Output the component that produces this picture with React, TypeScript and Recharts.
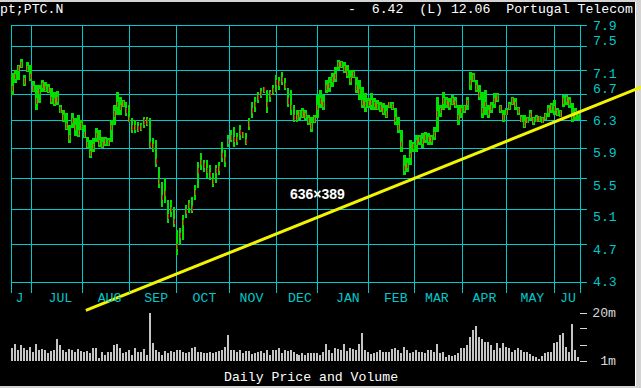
import React from 'react';
import { ComposedChart, Bar, XAxis, YAxis, CartesianGrid, ReferenceLine } from 'recharts';

const highs = [
  7.05, 7.10, 7.19, 7.29, 7.02, 7.24, 7.19, 6.92, 6.85, 6.85,
  6.94, 6.90, 6.87, 6.81, 6.74, 6.76, 6.54, 6.46, 6.41, 6.24,
  6.41, 6.34, 6.38, 6.31, 6.24, 6.06, 6.02, 6.05, 6.19, 6.16,
  6.06, 6.06, 6.05, 6.31, 6.54, 6.74, 6.66, 6.62, 6.58, 6.54,
  6.34, 6.31, 6.28, 6.26, 6.35, 6.35, 6.34, 6.05, 6.02, 5.65,
  5.45, 5.50, 5.22, 5.22, 5.14, 4.86, 4.89, 5.04, 5.16, 5.22,
  5.26, 5.41, 5.71, 5.84, 5.74, 5.74, 5.67, 5.57, 5.67, 5.71,
  5.99, 5.88, 6.09, 6.16, 6.21, 6.12, 6.24, 6.13, 6.12, 6.34,
  6.58, 6.66, 6.74, 6.81, 6.82, 6.77, 6.77, 6.85, 7.02, 6.98,
  7.07, 6.97, 6.81, 6.77, 6.54, 6.46, 6.46, 6.49, 6.46, 6.38,
  6.35, 6.38, 6.69, 6.77, 6.69, 6.94, 6.98, 7.05, 7.15, 7.27,
  7.26, 7.24, 7.19, 7.10, 7.10, 6.98, 6.94, 6.82, 6.73, 6.65,
  6.73, 6.65, 6.62, 6.58, 6.57, 6.54, 6.58, 6.58, 6.49, 6.35,
  6.16, 5.81, 5.77, 6.02, 5.99, 6.09, 6.09, 6.12, 6.13, 6.12,
  6.09, 6.21, 6.66, 6.54, 6.74, 6.66, 6.65, 6.69, 6.66, 6.54,
  6.54, 6.54, 6.66, 7.07, 7.05, 6.94, 6.85, 6.74, 6.77, 6.54,
  6.58, 6.73, 6.73, 6.54, 6.46, 6.49, 6.58, 6.66, 6.65, 6.51,
  6.38, 6.38, 6.35, 6.46, 6.35, 6.38, 6.37, 6.35, 6.41, 6.54,
  6.57, 6.62, 6.49, 6.46, 6.69, 6.69, 6.66, 6.57, 6.49, 6.43,
];

const lows = [
  6.69, 6.89, 6.94, 7.14, 6.84, 7.07, 6.92, 6.74, 6.46, 6.57,
  6.74, 6.74, 6.73, 6.55, 6.52, 6.54, 6.41, 6.28, 6.16, 5.98,
  6.19, 6.07, 6.06, 6.16, 6.05, 5.90, 5.77, 5.85, 5.99, 5.92,
  5.90, 5.93, 5.93, 5.99, 6.24, 6.38, 6.38, 6.51, 6.37, 6.28,
  6.12, 6.12, 6.13, 6.14, 6.19, 6.22, 5.90, 5.85, 5.65, 5.37,
  5.14, 5.18, 4.94, 5.02, 4.90, 4.58, 4.69, 4.75, 5.00, 5.06,
  5.06, 5.22, 5.37, 5.61, 5.58, 5.50, 5.47, 5.38, 5.44, 5.54,
  5.71, 5.65, 5.92, 5.99, 5.92, 5.95, 6.02, 6.05, 5.95, 6.16,
  6.34, 6.43, 6.57, 6.65, 6.73, 6.41, 6.58, 6.69, 6.74, 6.77,
  6.85, 6.77, 6.51, 6.38, 6.28, 6.28, 6.31, 6.34, 6.31, 6.24,
  6.13, 6.26, 6.34, 6.49, 6.46, 6.73, 6.74, 6.82, 6.90, 7.10,
  7.14, 7.05, 6.97, 6.85, 6.97, 6.73, 6.62, 6.49, 6.43, 6.49,
  6.46, 6.46, 6.46, 6.43, 6.38, 6.34, 6.49, 6.46, 6.24, 6.12,
  5.85, 5.54, 5.58, 5.67, 5.85, 5.85, 5.95, 5.90, 5.98, 5.95,
  5.95, 6.02, 6.13, 6.35, 6.46, 6.49, 6.46, 6.54, 6.49, 6.24,
  6.34, 6.41, 6.46, 6.77, 6.90, 6.74, 6.62, 6.34, 6.38, 6.34,
  6.41, 6.49, 6.58, 6.41, 6.28, 6.38, 6.46, 6.54, 6.46, 6.38,
  6.28, 6.19, 6.26, 6.31, 6.24, 6.28, 6.28, 6.26, 6.31, 6.35,
  6.41, 6.38, 6.37, 6.35, 6.51, 6.54, 6.49, 6.28, 6.31, 6.31,
];

const closes = [
  6.80, 7.00, 7.12, 7.20, 6.92, 7.12, 7.00, 6.80, 6.60, 6.75,
  6.85, 6.80, 6.78, 6.62, 6.60, 6.62, 6.46, 6.35, 6.22, 6.05,
  6.30, 6.20, 6.12, 6.22, 6.10, 5.95, 5.83, 5.92, 6.08, 5.98,
  5.96, 6.00, 5.98, 6.20, 6.40, 6.55, 6.50, 6.56, 6.45, 6.32,
  6.20, 6.20, 6.18, 6.20, 6.28, 6.28, 5.96, 5.92, 5.72, 5.45,
  5.25, 5.30, 5.02, 5.10, 4.96, 4.68, 4.80, 4.95, 5.08, 5.15,
  5.12, 5.32, 5.60, 5.70, 5.66, 5.60, 5.55, 5.45, 5.60, 5.62,
  5.80, 5.75, 6.00, 6.05, 6.02, 6.02, 6.12, 6.10, 6.00, 6.25,
  6.45, 6.55, 6.65, 6.72, 6.78, 6.55, 6.70, 6.76, 6.90, 6.88,
  6.95, 6.85, 6.60, 6.50, 6.35, 6.35, 6.40, 6.40, 6.38, 6.30,
  6.22, 6.32, 6.50, 6.60, 6.55, 6.82, 6.85, 6.95, 7.00, 7.20,
  7.20, 7.12, 7.05, 6.95, 7.02, 6.82, 6.75, 6.58, 6.55, 6.56,
  6.58, 6.55, 6.52, 6.50, 6.45, 6.40, 6.55, 6.52, 6.32, 6.20,
  5.95, 5.62, 5.66, 5.80, 5.92, 5.98, 6.02, 6.00, 6.05, 6.02,
  6.02, 6.10, 6.40, 6.45, 6.60, 6.58, 6.55, 6.60, 6.56, 6.35,
  6.45, 6.48, 6.58, 6.90, 6.98, 6.82, 6.70, 6.45, 6.55, 6.42,
  6.50, 6.60, 6.65, 6.48, 6.35, 6.42, 6.52, 6.60, 6.55, 6.45,
  6.32, 6.25, 6.30, 6.38, 6.30, 6.32, 6.33, 6.30, 6.36, 6.45,
  6.50, 6.48, 6.42, 6.40, 6.60, 6.62, 6.58, 6.36, 6.40, 6.42,
];

// volume in millions of shares
const volumes = [
  6.0, 7.7, 5.4, 7.3, 6.0, 5.4, 6.7, 4.7, 7.7, 5.4,
  5.6, 5.4, 4.0, 5.1, 5.4, 9.6, 7.5, 5.4, 4.7, 5.6,
  5.4, 4.7, 5.6, 5.1, 4.4, 5.0, 4.3, 6.2, 6.0, 2.1,
  4.7, 3.4, 4.7, 4.7, 7.3, 7.7, 6.0, 4.0, 4.7, 5.4,
  3.4, 6.0, 4.7, 4.7, 5.6, 3.4, 20.0, 8.3, 5.4, 4.7,
  3.4, 5.1, 4.3, 5.1, 4.7, 5.4, 5.4, 4.7, 4.0, 4.7,
  6.0, 6.7, 4.7, 4.7, 4.3, 4.3, 4.5, 4.3, 4.7, 5.1,
  5.4, 6.7, 11.3, 5.4, 5.4, 4.7, 5.4, 4.3, 5.0, 5.1,
  3.8, 4.3, 4.7, 5.1, 4.3, 5.4, 3.4, 5.4, 5.4, 6.3,
  4.0, 5.4, 5.1, 5.4, 4.7, 3.8, 3.4, 4.0, 3.4, 4.3,
  4.3, 4.0, 4.3, 3.4, 4.7, 7.7, 5.4, 4.3, 6.0, 5.6,
  5.4, 7.7, 5.1, 6.0, 5.6, 5.4, 7.7, 12.2, 5.4, 4.7,
  3.8, 4.0, 4.7, 5.4, 4.7, 4.7, 4.7, 5.6, 6.0, 5.4,
  4.3, 6.5, 5.4, 4.3, 4.7, 5.4, 4.7, 4.7, 4.3, 5.4,
  5.4, 4.7, 7.7, 4.0, 4.7, 2.7, 3.4, 3.0, 3.4, 4.0,
  6.0, 6.0, 7.3, 10.6, 13.3, 14.9, 10.6, 9.6, 8.7, 8.7,
  7.3, 5.4, 8.0, 6.0, 8.3, 6.7, 6.0, 4.7, 5.4, 6.3,
  5.4, 4.7, 4.7, 3.8, 3.0, 2.7, 1.7, 3.0, 4.3, 4.7,
  4.7, 8.0, 8.7, 11.3, 12.0, 6.7, 4.7, 15.6, 5.4, 2.5,
];

const monthNames = ['J', 'JUL', 'AUG', 'SEP', 'OCT', 'NOV', 'DEC', 'JAN', 'FEB', 'MAR', 'APR', 'MAY', 'JU'];
const monthLabelAt = [2.8, 16.5, 32.9, 48.5, 64.6, 80.3, 96.5, 112.5, 128.5, 142.2, 158.1, 174.1, 186];
const monthBounds = [0, 6.7, 24, 39.7, 55.4, 73.1, 88.5, 102.5, 119.5, 134.6, 150.6, 165.6, 181.6, 190];
const priceTicks = [4.3, 4.7, 5.1, 5.5, 5.9, 6.3, 6.7, 7.1, 7.5, 7.9];
const volumeTicks = [1, 7.33, 13.67, 20];
const trendFrom = { x: 25, y: 4.02 };
const trendTo = { x: 210.4, y: 6.82 };

const bars = highs.map((h, i) => ({
  pos: i + 0.5,
  high: h,
  low: lows[i],
  close: closes[i],
  vol: volumes[i],
}));

const CYAN = '#00c8cc';
const GREEN = '#00e000';
const RED = '#f00000';
const VOLGRAY = '#c4c4c4';
const MONO = "'Liberation Mono', 'DejaVu Sans Mono', monospace";
const FS = 13.2;

const priceLabelShift: Record<string, number> = {
  '7.9': 1, '7.5': -5, '7.1': 4, '6.7': -5, '6.3': 1,
  '5.9': 5, '5.5': 8, '5.1': 8, '4.7': 6, '4.3': 0,
};

const PriceTick = (props: any) => {
  const { x, y, payload } = props;
  const label = Number(payload.value).toFixed(1);
  return (
    <text x={x} y={y + (priceLabelShift[label] || 0)} fill={CYAN} fontFamily={MONO} fontSize={FS}
      textAnchor="start" dominantBaseline="central">{label}</text>
  );
};

const MonthTick = (props: any) => {
  const { x, y, payload } = props;
  const idx = monthLabelAt.indexOf(payload.value);
  return (
    <text x={x} y={y + 5} fill={CYAN} fontFamily={MONO} fontSize={FS}
      textAnchor="middle" dominantBaseline="central">{monthNames[idx] ?? ''}</text>
  );
};

const EmptyTick = () => <g />;

const VolumeTick = (props: any) => {
  const { x, y, payload } = props;
  const v = payload.value;
  const label = v === 20 ? '20m' : v === 1 ? '1m' : '';
  return (
    <text x={x + 27} y={y} fill="#d8d8d8" fontFamily={MONO} fontSize={FS}
      textAnchor="end" dominantBaseline="central">{label}</text>
  );
};

const textBase: React.CSSProperties = {
  position: 'absolute',
  fontFamily: MONO,
  fontSize: FS,
  lineHeight: '14px',
  color: '#ffffff',
  whiteSpace: 'pre',
};

export default function App() {
  return (
    <div style={{ position: 'absolute', left: 0, top: 0, width: 641, height: 388, background: '#d4d4d4', overflow: 'hidden' }}>
      <div style={{ position: 'absolute', left: 0, top: 2, width: 636, height: 384, background: '#000' }} />
      <div style={{ position: 'absolute', left: 635, top: 2, width: 1, height: 384, background: '#ffffff' }} />

      <div style={{ ...textBase, left: 0, top: 3 }}>pt;PTC.N</div>
      <div style={{ ...textBase, left: 348, top: 3 }}>{'-  6.42  (L) 12.06  Portugal Telecom'}</div>

      <div style={{ position: 'absolute', left: 0, top: 0 }}>
        <ComposedChart width={641} height={388} data={bars} margin={{ top: 313, right: 60, bottom: 27, left: 11 }}
          style={{ shapeRendering: 'crispEdges' }}>
          <XAxis xAxisId="v" dataKey="pos" type="number" domain={[0, 190]} hide />
          <YAxis yAxisId="v" orientation="right" type="number" domain={[1, 20]} ticks={volumeTicks}
            interval={0} width={1} axisLine={false} tickSize={7} tickMargin={2}
            tickLine={{ stroke: '#d8d8d8' }} tick={<VolumeTick />} allowDataOverflow />
          <Bar xAxisId="v" yAxisId="v" dataKey="vol" fill={VOLGRAY} barSize={2} isAnimationActive={false} />
        </ComposedChart>
      </div>

      <div style={{ position: 'absolute', left: 0, top: 0 }}>
        <ComposedChart width={641} height={388} data={bars} margin={{ top: 25, right: 60, bottom: 104, left: 11 }}
          style={{ shapeRendering: 'crispEdges' }}>
          <CartesianGrid xAxisId="g" yAxisId="p" stroke={CYAN} strokeWidth={1} fill="none" />
          <XAxis xAxisId="g" dataKey="pos" type="number" domain={[0, 190]} ticks={monthBounds}
            interval={0} height={1} axisLine={false} tickSize={11} tickLine={{ stroke: CYAN }} tick={<EmptyTick />} />
          <XAxis xAxisId="m" dataKey="pos" type="number" domain={[0, 190]} ticks={monthLabelAt}
            interval={0} height={1} axisLine={false} tickLine={false} tickSize={0} tickMargin={10} tick={<MonthTick />} />
          <XAxis xAxisId="r" dataKey="pos" type="number" domain={[0, 190]} hide />
          <YAxis yAxisId="p" orientation="right" scale="log" type="number" domain={[4.3, 7.9]}
            ticks={priceTicks} interval={0} width={1} axisLine={false} tickSize={7} tickMargin={6}
            tickLine={{ stroke: CYAN }} tick={<PriceTick />} allowDataOverflow />
          <Bar xAxisId="g" yAxisId="p" dataKey={(d: any) => [d.low, d.high]} fill={GREEN} barSize={3} isAnimationActive={false} />
          <Bar xAxisId="r" yAxisId="p" dataKey={(d: any) => [d.close * 0.994, d.close * 1.006]} fill={RED} barSize={1} isAnimationActive={false} />
          <ReferenceLine xAxisId="g" yAxisId="p" segment={[trendFrom, trendTo]} stroke="#f4f400" strokeWidth={3}
            ifOverflow="visible" shapeRendering="geometricPrecision" />
        </ComposedChart>
      </div>

      <div style={{ position: 'absolute', left: 290, top: 186, fontFamily: "'Liberation Sans', Arial, sans-serif", fontWeight: 'bold', fontSize: 14, lineHeight: '16px', color: '#ffffff' }}>636×389</div>
      <div style={{ ...textBase, left: 224, top: 371 }}>Daily Price and Volume</div>
    </div>
  );
}
